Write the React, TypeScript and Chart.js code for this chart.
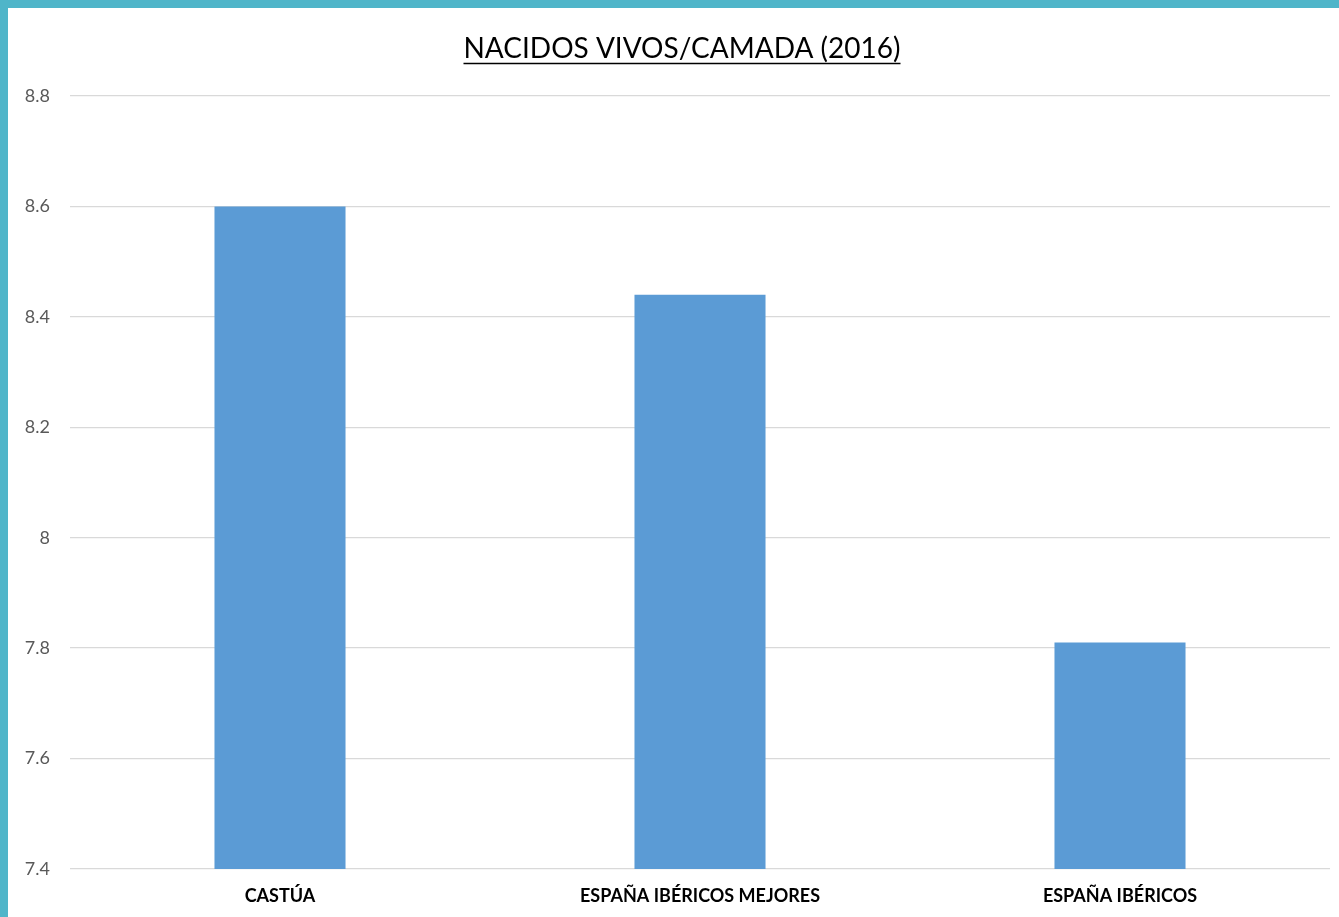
import React, { useEffect, useRef } from "react";
import { Chart, registerables } from "chart.js";

Chart.register(...registerables);

const categories = ["CASTÚA", "ESPAÑA IBÉRICOS MEJORES", "ESPAÑA IBÉRICOS"];
const values = [8.6, 8.44, 7.81];
const yTicks = [7.4, 7.6, 7.8, 8.0, 8.2, 8.4, 8.6, 8.8];
const titleText = "NACIDOS VIVOS/CAMADA (2016)";

const FONT = "Lato, 'Liberation Sans', sans-serif";

const underlinePlugin = {
  id: "titleUnderline",
  afterLayout(chart: any) {
    const tb = chart.titleBlock;
    if (tb) {
      tb.left += 26;
    }
  },
  afterDraw(chart: any) {
    const tb = chart.titleBlock;
    if (!tb) return;
    const ctx = chart.ctx;
    const font = tb.options.font;
    ctx.save();
    ctx.font = `${font.weight || "normal"} ${font.size}px ${font.family}`;
    const w = ctx.measureText(titleText).width;
    const cx = (tb.left + tb.right) / 2;
    const y = tb.top + tb.options.padding.top + font.size * 1.2 - 2;
    ctx.strokeStyle = "#000";
    ctx.lineWidth = 1.5;
    ctx.beginPath();
    ctx.moveTo(cx - w / 2, y);
    ctx.lineTo(cx + w / 2, y);
    ctx.stroke();
    ctx.restore();
  },
};

export default function App() {
  const ref = useRef<HTMLCanvasElement | null>(null);
  useEffect(() => {
    document.body.style.margin = "0";
    const chart = new Chart(ref.current!, {
      type: "bar",
      data: {
        labels: categories,
        datasets: [
          {
            data: values,
            backgroundColor: "#5B9BD5",
            borderWidth: 0,
            barPercentage: 0.312,
            categoryPercentage: 1,
          },
        ],
      },
      plugins: [underlinePlugin],
      options: {
        animation: false,
        responsive: false,
        maintainAspectRatio: false,
        layout: { padding: { left: 0, right: 9, top: 0, bottom: 0 } },
        plugins: {
          legend: { display: false },
          tooltip: { enabled: false },
          title: {
            display: true,
            text: titleText,
            color: "#000",
            font: { family: FONT, size: 28, weight: "normal" },
            padding: { top: 24, bottom: 30.4 },
          },
        },
        scales: {
          x: {
            grid: { display: false, drawTicks: false },
            border: { display: false },
            ticks: {
              color: "#000",
              font: { family: FONT, size: 18, weight: "bold" },
              padding: 16,
              maxRotation: 0,
            },
            afterFit(scale: any) {
              scale.height = 48;
            },
          },
          y: {
            min: 7.4,
            max: 8.8,
            grid: { color: "#D9D9D9", lineWidth: 1.3, drawTicks: false },
            border: { display: false },
            afterBuildTicks(scale: any) {
              scale.ticks = yTicks.map((v) => ({ value: v }));
            },
            ticks: {
              color: "#595959",
              font: { family: FONT, size: 18 },
              padding: 20,
              callback: (v: any) => String(parseFloat(Number(v).toFixed(1))),
            },
            afterFit(scale: any) {
              scale.width = 62;
            },
          },
        },
      },
    });
    return () => chart.destroy();
  }, []);
  return (
    <div
      style={{
        position: "absolute",
        left: 0,
        top: 0,
        width: 1331,
        height: 909,
        borderLeft: "8px solid #4FB5C9",
        borderTop: "8px solid #4FB5C9",
        background: "#fff",
      }}
    >
      <canvas ref={ref} width={1331} height={909} style={{ display: "block" }} />
    </div>
  );
}
